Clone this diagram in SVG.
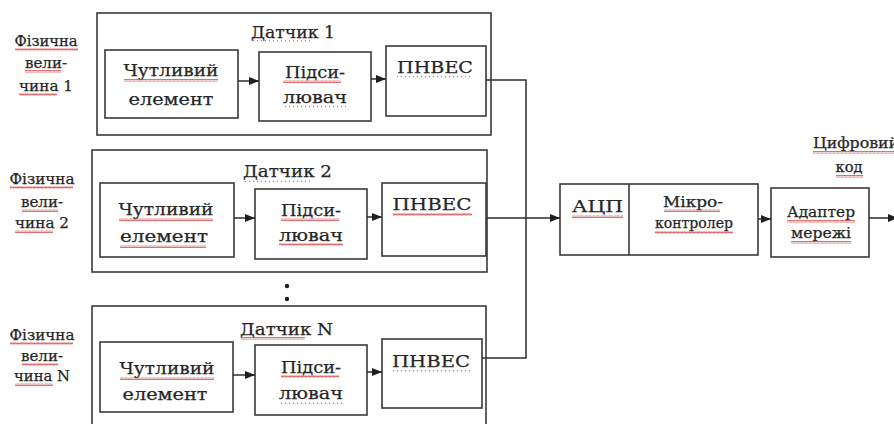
<svg xmlns="http://www.w3.org/2000/svg" width="894" height="424" viewBox="0 0 894 424">
<defs>
<style>
.box{fill:none;stroke:#3a3a3a;stroke-width:1.6}
.ln{fill:none;stroke:#2e2e2e;stroke-width:1.5}
.t,.s,.m{font-family:"DejaVu Serif","Liberation Serif","Times New Roman",serif;fill:#262626;stroke:#262626;stroke-width:0.25;text-anchor:middle}
.t{font-size:17px}
.s{font-size:14px}
.m{font-size:14px}
.st{text-anchor:start}
.w{fill:url(#wavy)}
.d{fill:url(#dots)}
</style>
<pattern id="wavy" width="4" height="3" patternUnits="userSpaceOnUse">
<path d="M0 2.5 L1 0.5 L2 2.5 L3 0.5 L4 2.5" fill="none" stroke="#d84a4a" stroke-width="0.8"/>
</pattern>
<pattern id="dots" width="4" height="3" patternUnits="userSpaceOnUse">
<circle cx="1.5" cy="1.5" r="0.7" fill="#c77"/>
</pattern>
<marker id="ah" markerWidth="10" markerHeight="8" refX="10" refY="4" orient="auto" markerUnits="userSpaceOnUse">
<path d="M0 0 L10 4 L0 8 Z" fill="#1e1e1e"/>
</marker>
</defs>
<rect width="894" height="424" fill="#ffffff"/>

<!-- left labels -->
<g id="label1">
<text class="s" x="46" y="46" textLength="63" lengthAdjust="spacingAndGlyphs">Фізична</text>
<text class="s" x="46" y="68" textLength="42" lengthAdjust="spacingAndGlyphs">вели-</text>
<text class="s" x="46" y="91" textLength="54" lengthAdjust="spacingAndGlyphs">чина 1</text>
<rect class="w" x="15" y="48" width="63" height="3"/>
<rect class="w" x="25" y="70" width="36" height="3"/>
<rect class="w" x="19" y="93" width="38" height="3"/>
</g>
<g id="label2">
<text class="s" x="42" y="184" textLength="65" lengthAdjust="spacingAndGlyphs">Фізична</text>
<text class="s" x="42" y="207" textLength="42" lengthAdjust="spacingAndGlyphs">вели-</text>
<text class="s" x="42" y="228" textLength="54" lengthAdjust="spacingAndGlyphs">чина 2</text>
<rect class="w" x="10" y="186" width="63" height="3"/>
<rect class="w" x="22" y="209" width="36" height="3"/>
<rect class="w" x="15" y="230" width="38" height="3"/>
</g>
<g id="labelN">
<text class="s" x="42" y="340" textLength="65" lengthAdjust="spacingAndGlyphs">Фізична</text>
<text class="s" x="42" y="361" textLength="42" lengthAdjust="spacingAndGlyphs">вели-</text>
<text class="s" x="42" y="381" textLength="56" lengthAdjust="spacingAndGlyphs">чина N</text>
<rect class="w" x="10" y="342" width="63" height="3"/>
<rect class="w" x="22" y="363" width="36" height="3"/>
<rect class="w" x="15" y="383" width="38" height="3"/>
</g>

<!-- sensor 1 -->
<g id="sensor1">
<rect class="box" x="97" y="13" width="394" height="122"/>
<text class="t" x="293" y="38" textLength="84" lengthAdjust="spacingAndGlyphs">Датчик 1</text>
<rect class="d" x="252" y="40" width="60" height="3"/>
</g>
<g id="sens1">
<rect class="box" x="105" y="50" width="133" height="68"/>
<text class="t" x="171" y="76" textLength="95" lengthAdjust="spacingAndGlyphs">Чутливий</text>
<text class="t" x="171" y="105" textLength="85" lengthAdjust="spacingAndGlyphs">елемент</text>
<rect class="w" x="124" y="79" width="94" height="3"/>
</g>
<g id="amp1">
<rect class="box" x="259" y="52" width="112" height="69"/>
<text class="t" x="315" y="78" textLength="60" lengthAdjust="spacingAndGlyphs">Підси-</text>
<text class="t" x="315" y="103" textLength="64" lengthAdjust="spacingAndGlyphs">лювач</text>
<rect class="w" x="283" y="80" width="58" height="3"/>
<rect class="d" x="283" y="105" width="64" height="3"/>
</g>
<g id="pnves1">
<rect class="box" x="386" y="46" width="100" height="70"/>
<text class="t" x="435" y="73" textLength="76" lengthAdjust="spacingAndGlyphs">ПНВЕС</text>
<rect class="d" x="397" y="76" width="76" height="3"/>
</g>

<!-- sensor 2 -->
<g id="sensor2">
<rect class="box" x="92" y="150" width="395" height="122"/>
<text class="t" x="287.5" y="177" textLength="89" lengthAdjust="spacingAndGlyphs">Датчик 2</text>
<rect class="d" x="244" y="179" width="66" height="3"/>
</g>
<g id="sens2">
<rect class="box" x="100" y="183" width="134" height="74"/>
<text class="t" x="166" y="215" textLength="95" lengthAdjust="spacingAndGlyphs">Чутливий</text>
<text class="t" x="164" y="242" textLength="88" lengthAdjust="spacingAndGlyphs">елемент</text>
<rect class="w" x="119" y="218" width="94" height="3"/>
<rect class="w" x="120" y="245" width="86" height="3"/>
</g>
<g id="amp2">
<rect class="box" x="255" y="189" width="112" height="70"/>
<text class="t" x="311" y="216" textLength="60" lengthAdjust="spacingAndGlyphs">Підси-</text>
<text class="t" x="311" y="241" textLength="64" lengthAdjust="spacingAndGlyphs">лювач</text>
<rect class="w" x="281" y="218" width="58" height="3"/>
<rect class="w" x="279" y="243" width="64" height="3"/>
</g>
<g id="pnves2">
<rect class="box" x="382" y="183" width="104" height="73"/>
<text class="t" x="432" y="210" textLength="79" lengthAdjust="spacingAndGlyphs">ПНВЕС</text>
<rect class="w" x="393" y="213" width="79" height="3"/>
</g>

<!-- dots -->
<g id="ellipsis">
<circle cx="287" cy="286" r="2.2" fill="#1e1e1e"/>
<circle cx="287" cy="299" r="2.2" fill="#1e1e1e"/>
</g>

<!-- sensor N -->
<g id="sensorN">
<rect class="box" x="92" y="306" width="394" height="130"/>
<text class="t" x="286.5" y="335" textLength="93" lengthAdjust="spacingAndGlyphs">Датчик N</text>
<rect class="w" x="241" y="337" width="64" height="3"/>
</g>
<g id="sensN">
<rect class="box" x="100" y="342" width="133" height="70"/>
<text class="t" x="167" y="374" textLength="95" lengthAdjust="spacingAndGlyphs">Чутливий</text>
<text class="t" x="165" y="400" textLength="85" lengthAdjust="spacingAndGlyphs">елемент</text>
<rect class="w" x="120" y="377" width="94" height="3"/>
</g>
<g id="ampN">
<rect class="box" x="255" y="345" width="112" height="70"/>
<text class="t" x="311" y="373" textLength="60" lengthAdjust="spacingAndGlyphs">Підси-</text>
<text class="t" x="311" y="399" textLength="64" lengthAdjust="spacingAndGlyphs">лювач</text>
<rect class="w" x="281" y="375" width="58" height="3"/>
<rect class="d" x="279" y="401" width="64" height="3"/>
</g>
<g id="pnvesN">
<rect class="box" x="382" y="339" width="100" height="69"/>
<text class="t" x="431" y="367" textLength="78" lengthAdjust="spacingAndGlyphs">ПНВЕС</text>
<rect class="d" x="392" y="370" width="78" height="3"/>
</g>

<!-- right side -->
<g id="adc_mcu">
<rect class="box" x="560" y="184" width="198" height="71"/>
<line class="box" x1="629" y1="184" x2="629" y2="255"/>
<text class="t" x="597.5" y="212" textLength="51" lengthAdjust="spacingAndGlyphs">АЦП</text>
<rect class="w" x="572" y="215" width="51" height="3"/>
<text class="m" x="693" y="207" textLength="60" lengthAdjust="spacingAndGlyphs">Мікро-</text>
<text class="m" x="694" y="228" textLength="78" lengthAdjust="spacingAndGlyphs">контролер</text>
<rect class="w" x="664" y="209" width="56" height="3"/>
<rect class="w" x="655" y="231" width="78" height="3"/>
</g>
<g id="adapter">
<rect class="box" x="771" y="188" width="98" height="69"/>
<text class="m" x="821" y="217" textLength="68" lengthAdjust="spacingAndGlyphs">Адаптер</text>
<text class="m" x="821" y="238" textLength="60" lengthAdjust="spacingAndGlyphs">мережі</text>
<rect class="w" x="787" y="220" width="68" height="3"/>
<rect class="w" x="791" y="241" width="60" height="3"/>
</g>
<g id="output">
<text class="m st" x="813" y="148" textLength="86" lengthAdjust="spacingAndGlyphs">Цифровий</text>
<rect class="w" x="813" y="151" width="81" height="3"/>
<text class="m" x="849" y="172" textLength="27" lengthAdjust="spacingAndGlyphs">код</text>
<rect class="w" x="836" y="175" width="27" height="3"/>
</g>

<!-- connectors -->
<g id="connectors">
<line class="ln" x1="238" y1="81" x2="259" y2="81" marker-end="url(#ah)"/>
<line class="ln" x1="371" y1="79" x2="386" y2="79" marker-end="url(#ah)"/>
<line class="ln" x1="234" y1="218" x2="255" y2="218" marker-end="url(#ah)"/>
<line class="ln" x1="367" y1="217" x2="382" y2="217" marker-end="url(#ah)"/>
<line class="ln" x1="233" y1="375" x2="255" y2="375" marker-end="url(#ah)"/>
<line class="ln" x1="367" y1="372" x2="382" y2="372" marker-end="url(#ah)"/>
<polyline class="ln" points="486,80 526,80 526,358 482,358"/>
<line class="ln" x1="487" y1="218" x2="560" y2="218" marker-end="url(#ah)"/>
<line class="ln" x1="758" y1="219" x2="771" y2="219" marker-end="url(#ah)"/>
<line class="ln" x1="869" y1="218" x2="898" y2="218" marker-end="url(#ah)"/>
</g>
</svg>
